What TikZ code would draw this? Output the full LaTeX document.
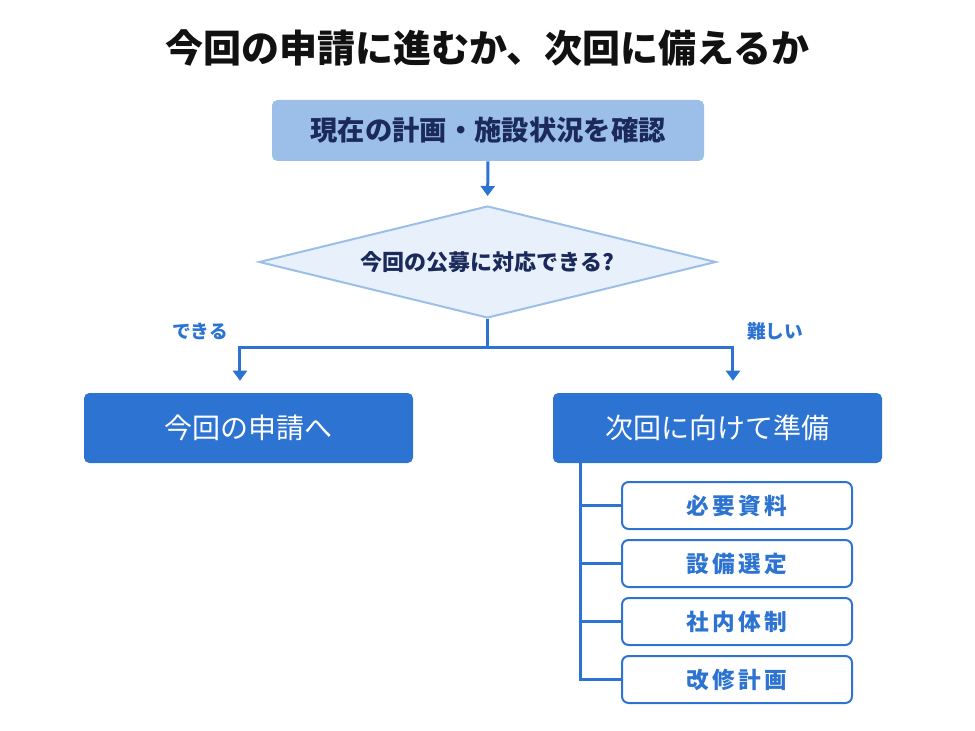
\documentclass[tikz,border=0pt]{standalone}
\usepackage{fontspec}
\usetikzlibrary{shapes.geometric,arrows.meta}
\newfontfamily\jp{Noto Sans CJK JP}
\newfontfamily\jpsp[LetterSpace=14]{Noto Sans CJK JP}
\definecolor{mainblue}{HTML}{2D74D2}
\definecolor{paleblue}{HTML}{9BBFE8}
\definecolor{iceblue}{HTML}{E8F1FB}
\definecolor{navy}{HTML}{1B2A5A}
\definecolor{ink}{HTML}{111111}
\tikzset{
  titletext/.style={font=\jp\bfseries\fontsize{28.5pt}{32pt}\selectfont, text=ink},
  startbox/.style={fill=paleblue, rounded corners=4pt, minimum width=324pt, minimum height=45.75pt,
    font=\jp\bfseries\fontsize{20.5pt}{24pt}\selectfont, text=navy},
  question/.style={diamond, shape aspect=4.08, draw=paleblue, line width=1.5pt, fill=iceblue,
    minimum width=342.75pt, minimum height=84pt, inner sep=0pt,
    font=\jp\bfseries\fontsize{16.5pt}{19pt}\selectfont, text=navy},
  outcome/.style={fill=mainblue, rounded corners=4pt, minimum width=246.75pt, minimum height=52.5pt,
    font=\jp\fontsize{21pt}{24pt}\selectfont, text=white},
  itembox/.style={draw=mainblue, line width=1.5pt, fill=white, rounded corners=5pt,
    minimum width=172.5pt, minimum height=35.25pt,
    font=\jpsp\bfseries\fontsize{17pt}{20pt}\selectfont, text=mainblue},
  branchlabel/.style={font=\jp\bfseries\fontsize{14pt}{16pt}\selectfont, text=mainblue},
  link/.style={draw=mainblue, line width=2.25pt},
  arrowlink/.style={link, -{Triangle[width=10.5pt,length=7.5pt]}},
}
\begin{document}
\begin{tikzpicture}[x=0.75pt, y=-0.75pt]
  \useasboundingbox (0,0) rectangle (975,731);

  % heading
  \node[titletext] (title) at (487.5,48) {今回の申請に進むか、次回に備えるか};

  % decision flow
  \node[startbox] (start) at (488,130.5) {現在の計画・施設状況を確認};
  \node[question] (ask) at (487.5,262) {今回の公募に対応できる?};
  \node[outcome] (now) at (248.5,428) {今回の申請へ};
  \node[outcome] (next) at (717.5,428) {次回に向けて準備};

  \node[branchlabel] (yes) at (200,331) {できる};
  \node[branchlabel] (hard) at (775,331) {難しい};

  % preparation items
  \node[itembox] (i1) at (737,505.5) {必要資料};
  \node[itembox] (i2) at (737,563.5) {設備選定};
  \node[itembox] (i3) at (737,621.5) {社内体制};
  \node[itembox] (i4) at (737,679.5) {改修計画};

  % connectors
  \draw[arrowlink, shorten >=6.75pt] (start.south) -- (ask.north);
  \coordinate (split) at (487.5,347);
  \draw[link] (ask.south) -- (split);
  \draw[arrowlink, shorten >=9pt] (split) -| ([xshift=-6.4pt]now.north);
  \draw[arrowlink, shorten >=9pt] (split) -| ([xshift=11.6pt]next.north);

  \coordinate (trunk) at ([xshift=-103.1pt]next.south);
  \draw[link] (trunk) |- (i4.west);
  \foreach \item in {i1,i2,i3} {
    \draw[link] (\item.west -| trunk) -- (\item.west);
  }
\end{tikzpicture}
\end{document}
